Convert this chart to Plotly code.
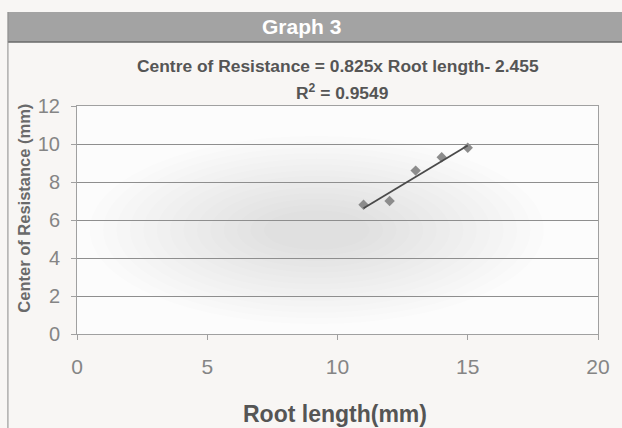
import numpy as np
import plotly.graph_objects as go

# ---- data ----
root_length = [11, 12, 13, 14, 15]
centre_resistance = [6.8, 7.0, 8.6, 9.3, 9.8]
slope = 0.825
intercept = -2.455
r_squared = 0.9549
x_ticks = [0, 5, 10, 15, 20]
y_ticks = [0, 2, 4, 6, 8, 10, 12]

W, H = 622, 428
L, R, T, B = 77, 605, 106, 334
pw, ph = R - L, B - T


def px(x):
    return (x - L) / pw


def py(y):
    return (B - y) / ph


fit_x = np.array([min(root_length), max(root_length)])
fit_y = slope * fit_x + intercept

fig = go.Figure()
fig.add_trace(go.Scatter(
    x=root_length, y=centre_resistance, mode="markers",
    marker=dict(symbol="diamond", size=8, color="#8c8c8c"),
    showlegend=False, hoverinfo="x+y"))
fig.add_trace(go.Scatter(
    x=fit_x, y=fit_y, mode="lines",
    line=dict(color="#4a4a4a", width=1.8),
    showlegend=False))

shapes = []
# soft shading in plot area
n = 14
cx, cy = 320, 230
for i in range(n):
    f = 1 - i / n
    rx, ry = 40 + 190 * f, 14 + 80 * f
    shapes.append(dict(type="circle", xref="paper", yref="paper",
                       x0=px(cx - rx), x1=px(cx + rx), y0=py(cy + ry), y1=py(cy - ry),
                       fillcolor="rgba(120,125,140,0.016)", line=dict(width=0), layer="below"))
# header band
shapes.append(dict(type="rect", xref="paper", yref="paper",
                   x0=px(7), x1=px(640), y0=py(42), y1=py(12),
                   fillcolor="#a3a3a3", line=dict(width=0)))
shapes.append(dict(type="line", xref="paper", yref="paper",
                   x0=px(7), x1=px(640), y0=py(42), y1=py(42),
                   line=dict(color="#6a6a6a", width=1.5)))
# left frame line
shapes.append(dict(type="line", xref="paper", yref="paper",
                   x0=px(7), x1=px(7), y0=py(12), y1=py(440),
                   line=dict(color="#8a8a8a", width=1)))

FONT = "Liberation Sans, Arial"
annotations = [
    dict(text="<b>Graph 3</b>", xref="paper", yref="paper", x=px(305), y=py(27),
         showarrow=False, font=dict(family=FONT, size=21, color="white"),
         xanchor="center", yanchor="middle"),
    dict(text=f"<b>Centre of Resistance = {slope}x Root length- {abs(intercept)}</b>",
         xref="paper", yref="paper", x=px(342), y=py(66), showarrow=False,
         font=dict(family=FONT, size=17.4, color="#555555"),
         xanchor="center", yanchor="middle"),
    dict(text=f"<b>R<sup>2</sup> = {r_squared}</b>",
         xref="paper", yref="paper", x=px(346), y=py(92), showarrow=False,
         font=dict(family=FONT, size=17.4, color="#555555"),
         xanchor="center", yanchor="middle"),
    dict(text="<b>Center of Resistance (mm)</b>", xref="paper", yref="paper",
         x=px(23), y=py(208), showarrow=False, textangle=-90,
         font=dict(family=FONT, size=16.5, color="#6a6a6a"),
         xanchor="center", yanchor="middle"),
    dict(text="<b>Root length(mm)</b>", xref="paper", yref="paper",
         x=px(338), y=py(414), showarrow=False,
         font=dict(family=FONT, size=23, color="#555555"),
         xanchor="center", yanchor="middle"),
]

fig.update_layout(
    width=W, height=H,
    margin=dict(l=L, r=W - R, t=T, b=H - B),
    paper_bgcolor="#f8f6f4",
    plot_bgcolor="#fcfcfc",
    shapes=shapes,
    annotations=annotations,
    xaxis=dict(range=[0, 20], tickvals=x_ticks, showgrid=False, zeroline=False,
               showline=True, linecolor="#a0a0a0", mirror=True, ticks="outside",
               ticklen=5, tickcolor="#a0a0a0", ticklabelstandoff=9,
               tickfont=dict(family=FONT, size=21, color="#858585")),
    yaxis=dict(range=[0, 12], tickvals=y_ticks, showgrid=True, gridcolor="#8e8e8e",
               gridwidth=1, zeroline=False, showline=True, linecolor="#a0a0a0",
               mirror=True, ticks="outside", ticklen=5, tickcolor="#a0a0a0",
               ticklabelstandoff=7,
               tickfont=dict(family=FONT, size=20, color="#858585")),
)

fig.write_html("out.html")
